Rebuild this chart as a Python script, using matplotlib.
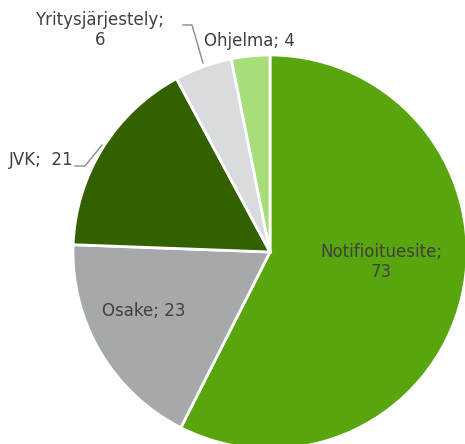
import matplotlib
matplotlib.use("Agg")
import matplotlib.pyplot as plt

labels = ["Notifioituesite", "Osake", "JVK", "Yritysjärjestely", "Ohjelma"]
values = [73, 23, 21, 6, 4]
colors = ["#58a50d", "#a5a9aa", "#336100", "#d9dcdf", "#a7dd7b"]

W, H = 465, 444
fig = plt.figure(figsize=(W / 100, H / 100), dpi=100)
ax = fig.add_axes([0, 0, 1, 1])

# pie drawn in pixel coords (y flipped, so counterclock here = clockwise on screen)
cx, cy, r = 270, 252, 197
wedges, _ = ax.pie(values, colors=colors, startangle=-90, counterclock=True,
                   center=(cx, cy), radius=r, frame=True,
                   wedgeprops=dict(edgecolor="white", linewidth=2))
ax.set_xlim(0, W)
ax.set_ylim(H, 0)
ax.set_aspect("auto")
ax.axis("off")

tc = "#404040"
fs = 12
ax.text(381, 262, f"{labels[0]};\n{values[0]}", ha="center", va="center",
        color=tc, fontsize=fs, linespacing=1.2)
ax.text(144, 311, f"{labels[1]}; {values[1]}", ha="center", va="center",
        color=tc, fontsize=fs)
ax.text(41, 160, f"{labels[2]};  {values[2]}", ha="center", va="center",
        color=tc, fontsize=fs)
ax.text(100, 30, f"{labels[3]};\n{values[3]}", ha="center", va="center",
        color=tc, fontsize=fs, linespacing=1.2)
ax.text(249, 41, f"{labels[4]}; {values[4]}", ha="center", va="center",
        color=tc, fontsize=fs)

lc = "#8a8a8a"
ax.plot([75, 85, 102], [166, 166, 145], color=lc, lw=1)
ax.plot([183, 192, 203], [25, 25, 63], color=lc, lw=1)

fig.savefig("out.png", dpi=100)
